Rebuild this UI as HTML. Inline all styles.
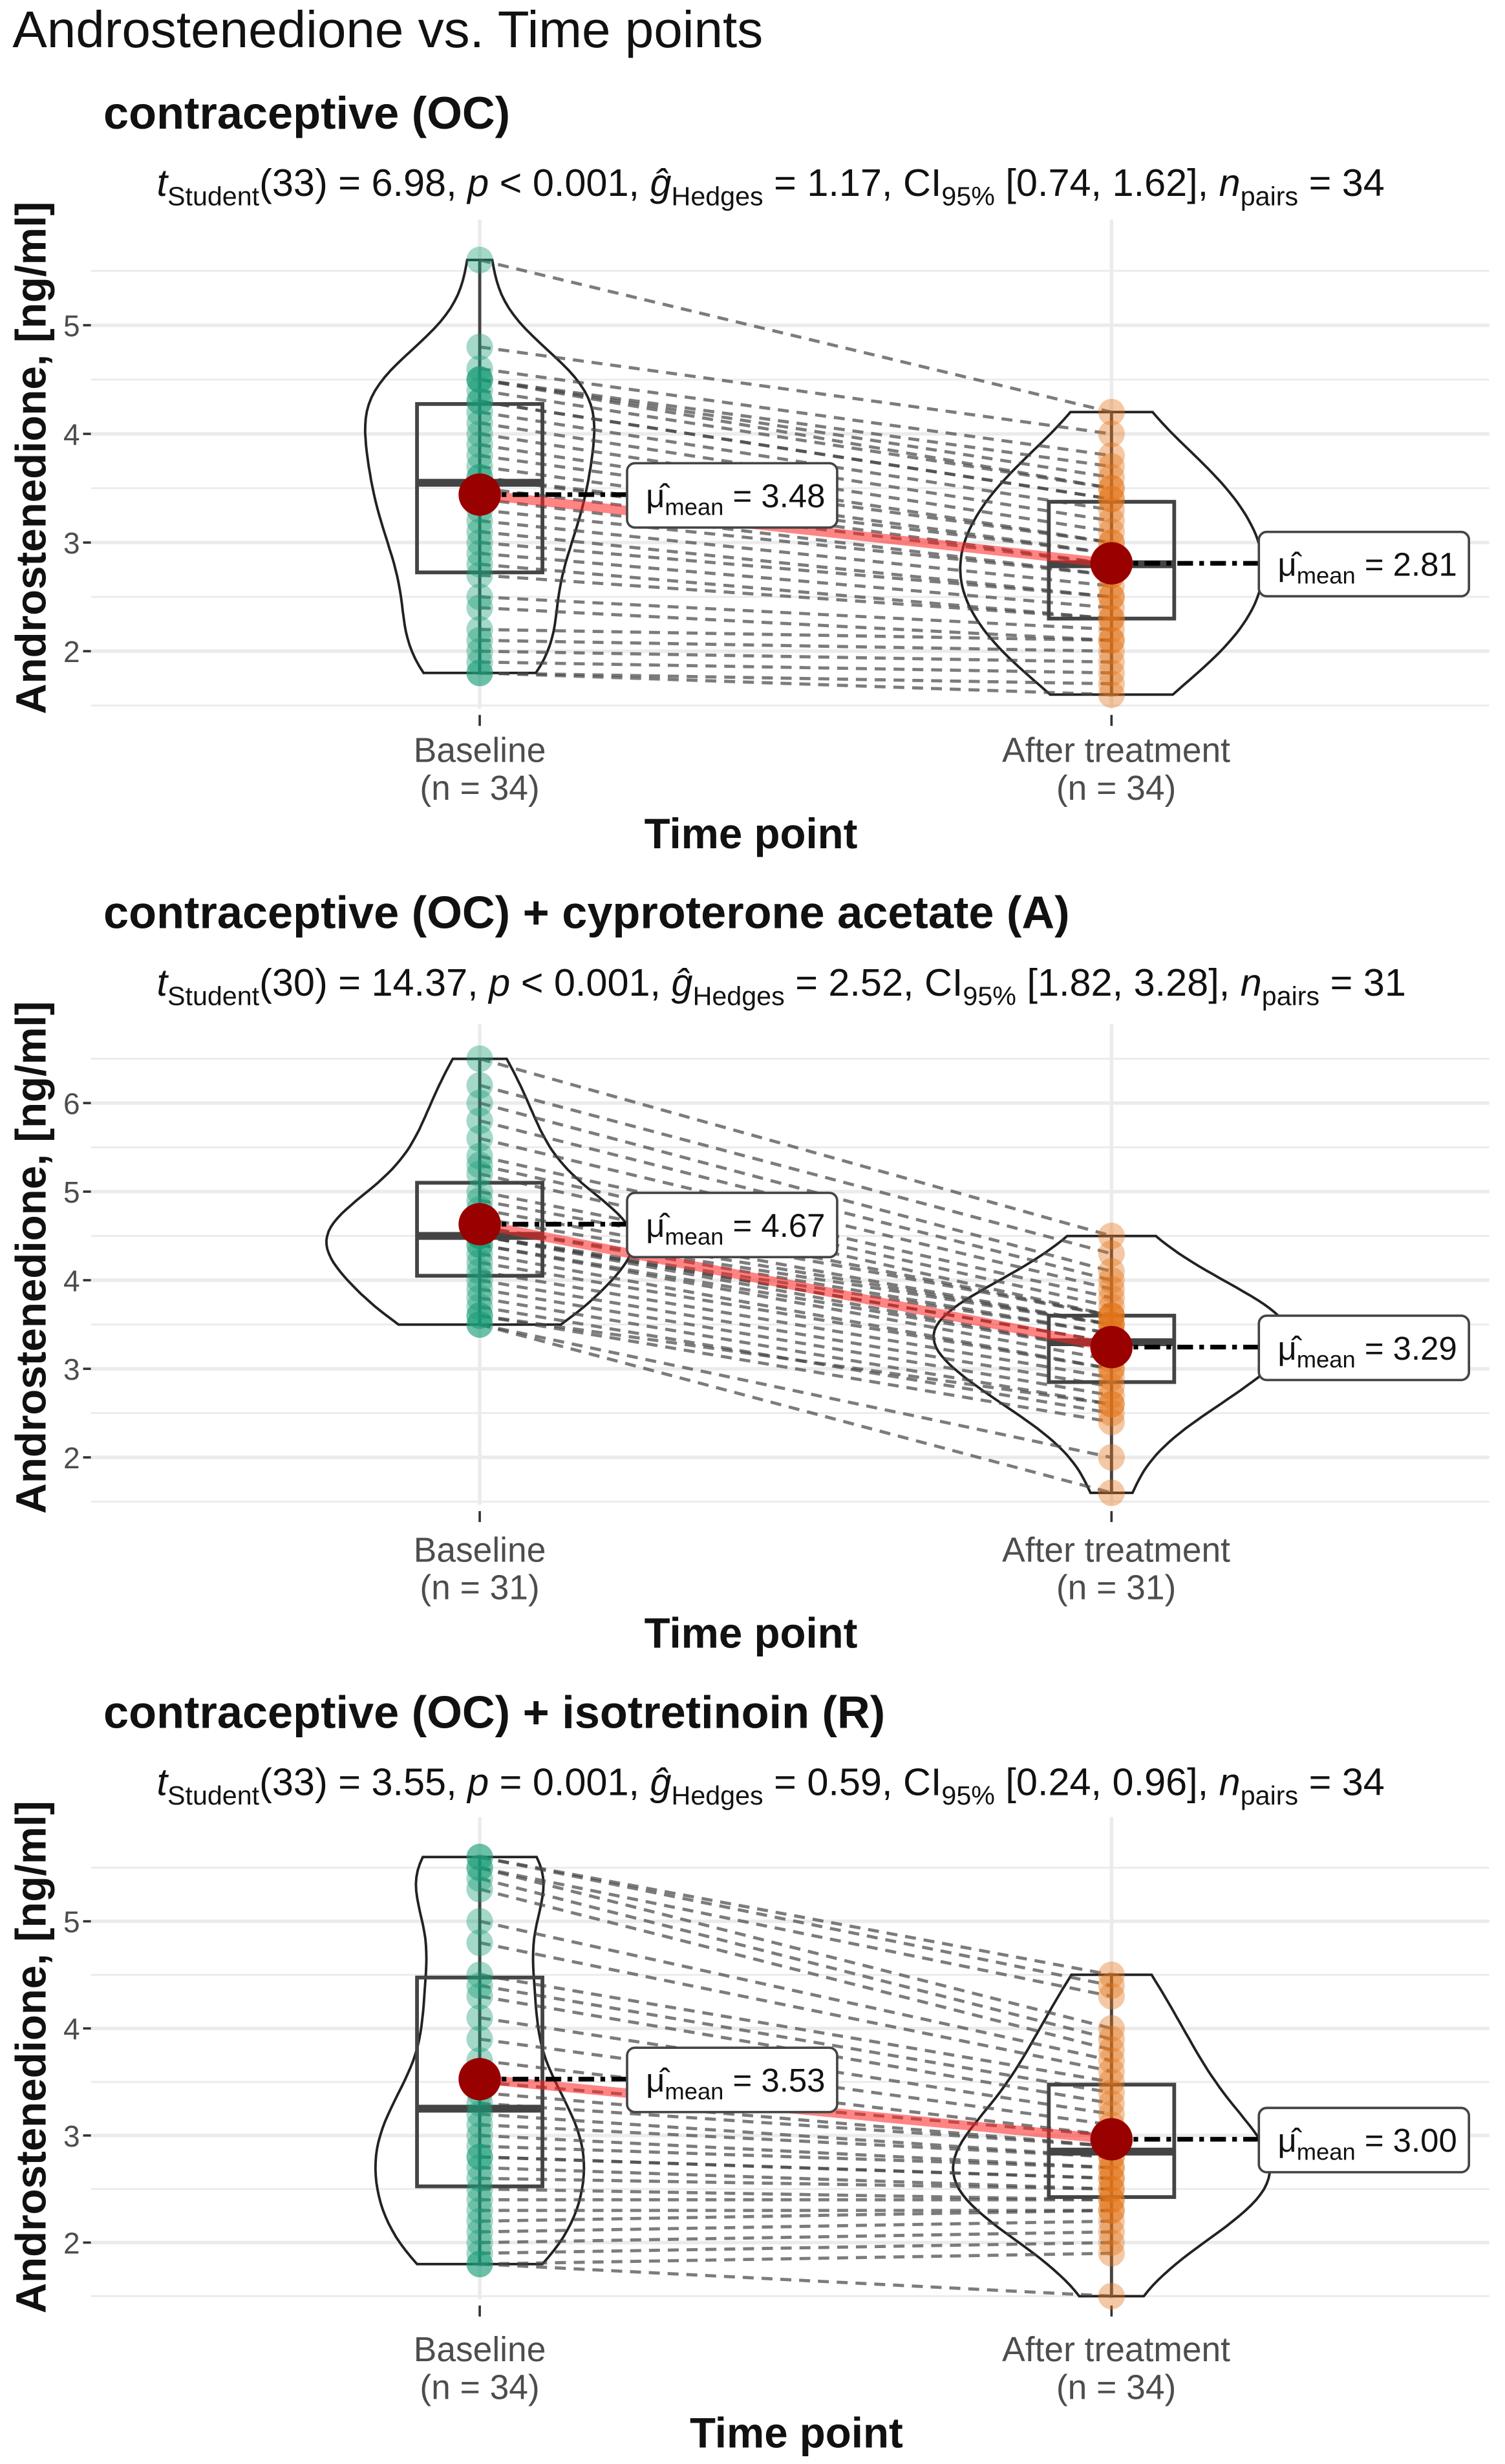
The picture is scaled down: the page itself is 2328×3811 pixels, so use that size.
<!DOCTYPE html>
<html><head><meta charset="utf-8">
<style>
html,body{margin:0;padding:0;background:#fff;}
svg{display:block;}
text{font-family:"Liberation Sans",sans-serif;}
</style></head>
<body>
<svg id="chart" width="2328" height="3811" viewBox="0 0 960 1571.5" xmlns="http://www.w3.org/2000/svg">
<text x="8" y="30" font-size="33" fill="#111">Androstenedione vs. Time points</text>
</svg>
<script>
// ---------- data ----------
const categories = ["Baseline", "After treatment"];
const panelTitles = ["contraceptive (OC)", "contraceptive (OC) + cyproterone acetate (A)", "contraceptive (OC) + isotretinoin (R)"];
const nCounts = [34, 31, 34];
const meanLabels1 = ["3.48", "2.81"];
const meanLabels2 = ["4.67", "3.29"];
const meanLabels3 = ["3.53", "3.00"];
const baseline1 = [5.6,4.8,4.6,4.5,4.5,4.5,4.4,4.3,4.3,4.2,4.1,4.0,3.9,3.8,3.7,3.6,3.6,3.5,3.4,3.3,3.2,3.1,3.0,2.9,2.8,2.7,2.5,2.4,2.2,2.1,2.0,1.9,1.8,1.8];
const after1 = [4.2,4.0,3.8,3.7,3.6,3.5,3.5,3.4,3.4,3.3,3.2,3.1,3.0,3.0,2.9,2.9,2.8,2.8,2.7,2.7,2.6,2.5,2.5,2.4,2.3,2.3,2.2,2.1,2.1,2.0,1.9,1.8,1.7,1.6];
const baseline2 = [6.5,6.2,6.0,5.8,5.6,5.4,5.3,5.2,5.0,4.9,4.8,4.7,4.6,4.6,4.5,4.5,4.5,4.5,4.4,4.4,4.3,4.2,4.1,4.0,3.9,3.8,3.7,3.6,3.6,3.5,3.5];
const after2 = [4.5,4.3,4.1,4.0,3.9,3.8,3.7,3.6,3.6,3.6,3.5,3.5,3.5,3.4,3.4,3.3,3.3,3.2,3.2,3.1,3.0,3.0,2.9,2.8,2.7,2.6,2.5,2.4,2.6,2.0,1.6];
const baseline3 = [5.6,5.6,5.5,5.5,5.4,5.3,5.0,4.8,4.5,4.4,4.3,4.1,3.9,3.7,3.5,3.4,3.3,3.2,3.1,3.0,2.9,2.8,2.8,2.7,2.6,2.5,2.4,2.3,2.2,2.1,2.0,1.9,1.8,1.8];
const after3 = [4.5,4.4,4.3,4.0,3.9,3.8,3.7,3.6,3.5,3.4,3.3,3.2,3.1,3.0,3.0,2.9,2.9,2.8,2.8,2.7,2.7,2.6,2.6,2.5,2.5,2.4,2.4,2.3,2.3,2.2,2.1,2.0,1.9,1.5];
const yTicks1 = [2,3,4,5];
const yTicks2 = [2,3,4,5,6];
const yTicks3 = [2,3,4,5];
const stats1 = ["33","6.98","< 0.001","1.17","[0.74, 1.62]","34"];
const stats2 = ["30","14.37","< 0.001","2.52","[1.82, 3.28]","31"];
const stats3 = ["33","3.55","= 0.001","0.59","[0.24, 0.96]","34"];

// ---------- layout ----------
const NS = "http://www.w3.org/2000/svg";
const svg = document.getElementById("chart");
function mk(tag, attrs, parent){
  const e = document.createElementNS(NS, tag);
  for (const k in attrs) e.setAttribute(k, attrs[k]);
  (parent||svg).appendChild(e);
  return e;
}
const xPos = [306, 709];
const panels = [
  {top:0, y3:346, unit:69.3, ylo:1.5, yhi:5.9, base:baseline1, after:after1, ticks:yTicks1, stats:stats1, means:meanLabels1},
  {top:510, y3:873, unit:56.5, ylo:1.5, yhi:6.8, base:baseline2, after:after2, ticks:yTicks2, stats:stats2, means:meanLabels2},
  {top:1020, y3:1362, unit:68.3, ylo:1.5, yhi:5.9, base:baseline3, after:after3, ticks:yTicks3, stats:stats3, means:meanLabels3}
];
function mean(a){return a.reduce((s,v)=>s+v,0)/a.length;}
function quant(a,q){const s=[...a].sort((x,y)=>x-y);const p=(s.length-1)*q;const i=Math.floor(p);return s[i]+(s[Math.min(i+1,s.length-1)]-s[i])*(p-i);}
function kde(a,v,bw){let s=0;for(const x of a){const z=(v-x)/bw;s+=Math.exp(-0.5*z*z);}return s/(a.length*bw*Math.sqrt(2*Math.PI));}
const BW = 0.42, K = 210;

panels.forEach((P, pi) => {
  const g = mk("g", {});
  
  
  const yOf = v => P.y3 - (v - 3) * P.unit;
  const T = P.top;
  const plotTop = yOf(P.yhi) - 5, plotBot = yOf(P.ylo) + 0;
  for (let v = Math.ceil(P.ylo*2)/2; v <= P.yhi; v += 0.5) {
    const major = Math.abs(v - Math.round(v)) < 1e-6;
    const gl = mk("line", {x1:58, x2:950, y1:yOf(v), y2:yOf(v), stroke:"#ebebeb", "stroke-width": major?2.2:1.2}, g);
    
    
  }
  xPos.forEach(x => {
    const vl = mk("line", {x1:x, x2:x, y1:plotTop, y2:plotBot+2, stroke:"#ebebeb", "stroke-width":2.2}, g);
    
    
  });
  P.ticks.forEach(t => {
    const tl = mk("text", {x:51, y:yOf(t)+7, "font-size":19, fill:"#4d4d4d", "text-anchor":"end"}, g);
    tl.textContent = t;
    
    
    const tm = mk("line", {x1:53, x2:58, y1:yOf(t), y2:yOf(t), stroke:"#333", "stroke-width":1.5}, g);
    
    
  });
  const pt = mk("text", {x:66, y:T+82, "font-size":29, "font-weight":"bold", fill:"#111"}, g);
  pt.textContent = panelTitles[pi];
  
  
  const st = mk("text", {x:100, y:T+125, "font-size":24.5, fill:"#111"}, g);
  
  
  const s = P.stats;
  st.innerHTML = '<tspan font-style="italic">t</tspan><tspan font-size="17" dy="6">Student</tspan><tspan dy="-6">(' + s[0] + ') = ' + s[1] + ', </tspan><tspan font-style="italic">p</tspan><tspan> ' + s[2] + ', </tspan><tspan font-style="italic">ĝ</tspan><tspan font-size="17" dy="6">Hedges</tspan><tspan dy="-6"> = ' + s[3] + ', CI</tspan><tspan font-size="17" dy="6">95%</tspan><tspan dy="-6"> ' + s[4] + ', </tspan><tspan font-style="italic">n</tspan><tspan font-size="17" dy="6">pairs</tspan><tspan dy="-6"> = ' + s[5] + '</tspan>';
  const yt = mk("text", {x:0, y:0, "font-size":27, "font-weight":"bold", fill:"#111", "text-anchor":"middle", transform:"translate(29," + (T+292) + ") rotate(-90)"}, g);
  yt.textContent = "Androstenedione, [ng/ml]";
  
  
  categories.forEach((c, ci) => {
    const tm = mk("line", {x1:xPos[ci], x2:xPos[ci], y1:plotBot+6, y2:plotBot+13, stroke:"#333", "stroke-width":1.5}, g);
    
    
    const xl = mk("text", {x:xPos[ci]+(ci?3:0), y:T+486, "font-size":22, fill:"#4d4d4d", "text-anchor":"middle"}, g);
    xl.textContent = c;
    
    
    const xn = mk("text", {x:xPos[ci]+(ci?3:0), y:T+510, "font-size":22, fill:"#4d4d4d", "text-anchor":"middle"}, g);
    xn.textContent = "(n = " + nCounts[pi] + ")";
    
    
  });
  const xt = mk("text", {x: pi==2?508:479, y:T+541, "font-size":27, "font-weight":"bold", fill:"#111", "text-anchor":"middle"}, g);
  xt.textContent = "Time point";
  
  

  const groups = [P.base, P.after];
  groups.forEach((arr, gi) => {
    const lo = Math.min(...arr), hi = Math.max(...arr);
    const L = [], R = [];
    for (let i = 0; i <= 60; i++) {
      const v = lo + (hi - lo) * i / 60;
      const w = kde(arr, v, BW) * K;
      L.push((xPos[gi]-w).toFixed(1) + "," + yOf(v).toFixed(1));
      R.unshift((xPos[gi]+w).toFixed(1) + "," + yOf(v).toFixed(1));
    }
    const vp = mk("polygon", {points: L.concat(R).join(" "), fill:"none", stroke:"#222", "stroke-width":1.6}, g);
    
    
  });
  P.base.forEach((b, i) => {
    const pl = mk("line", {x1:xPos[0], y1:yOf(b), x2:xPos[1], y2:yOf(P.after[i]), stroke:"#444", "stroke-opacity":0.7, "stroke-width":2, "stroke-dasharray":"7 5"}, g);
    
    
  });
  groups.forEach((arr, gi) => {
    const q1 = quant(arr,0.25), q2 = quant(arr,0.5), q3 = quant(arr,0.75);
    const x = xPos[gi];
    const wl = mk("line", {x1:x, x2:x, y1:yOf(Math.max(...arr)), y2:yOf(Math.min(...arr)), stroke:"#444", "stroke-width":2}, g);
    
    
    const bx = mk("rect", {x:x-40, y:yOf(q3), width:80, height:yOf(q1)-yOf(q3), fill:"none", stroke:"#444", "stroke-width":2.4}, g);
    
    
    const md = mk("line", {x1:x-40, x2:x+40, y1:yOf(q2), y2:yOf(q2), stroke:"#444", "stroke-width":5}, g);
    
    
  });
  groups.forEach((arr, gi) => {
    arr.forEach(v => {
      const c = mk("circle", {cx:xPos[gi], cy:yOf(v), r:8.5, fill: gi?"#E4761B":"#1B9E77", "fill-opacity":0.4}, g);
      
      
    });
  });
  const m = groups.map(mean);
  const ml = mk("line", {x1:xPos[0], y1:yOf(m[0]), x2:xPos[1], y2:yOf(m[1]), stroke:"#ff2020", "stroke-opacity":0.55, "stroke-width":6}, g);
  
  
  m.forEach((mv, gi) => {
    const lx = gi ? 803 : 400, bw = 134;
    const dl = mk("line", {x1:xPos[gi], x2:lx, y1:yOf(mv), y2:yOf(mv), stroke:"#000", "stroke-width":3, "stroke-dasharray":"10 4 3 4"}, g);
    
    
    const mp = mk("circle", {cx:xPos[gi], cy:yOf(mv), r:13.5, fill:"#990000"}, g);
    
    
    const lb = mk("rect", {x:lx, y:yOf(mv)-20, width:bw, height:41, rx:5, fill:"#fff", stroke:"#444", "stroke-width":1.5}, g);
    
    
    const lt = mk("text", {x:lx+12, y:yOf(mv)+8, "font-size":21, fill:"#111"}, g);
    
    
    lt.innerHTML = '<tspan>μ̂</tspan><tspan font-size="15" dy="5">mean</tspan><tspan dy="-5"> = ' + P.means[gi] + '</tspan>';
  });
});
</script>
</body></html>
